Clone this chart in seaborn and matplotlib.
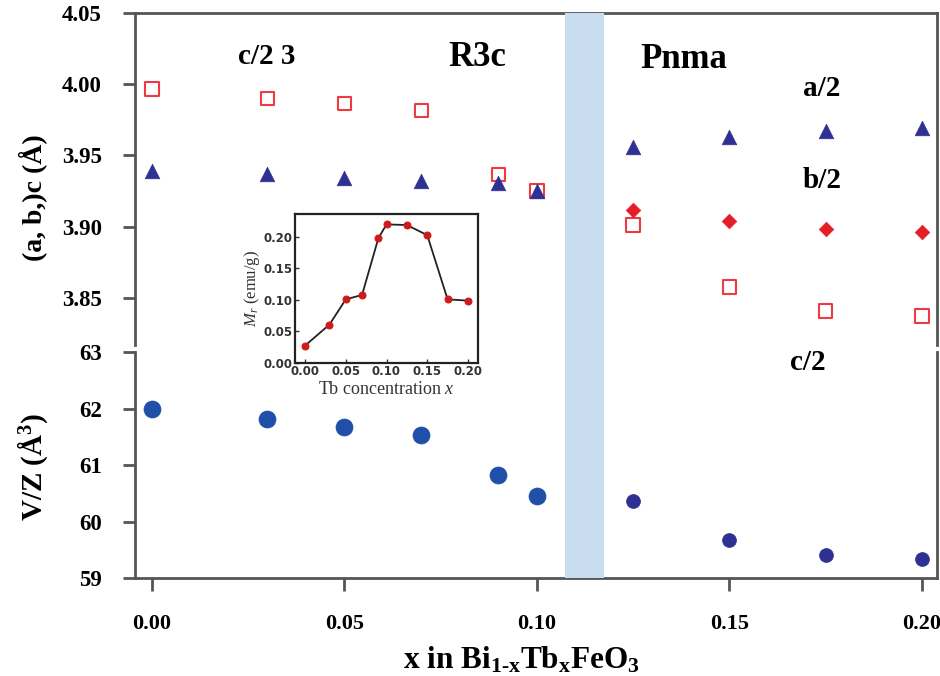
import matplotlib
matplotlib.use("Agg")
import matplotlib.pyplot as plt
import matplotlib.transforms as mtransforms
from matplotlib.patches import Rectangle
import seaborn as sns
import pandas as pd

# ---------------- data ----------------
x_r3c = [0.00, 0.03, 0.05, 0.07, 0.09, 0.10]
x_pnma = [0.125, 0.15, 0.175, 0.20]

a_r3c = [3.939, 3.937, 3.9345, 3.932, 3.931, 3.925]
c_r3c = [3.9965, 3.990, 3.9866, 3.9817, 3.9366, 3.925]
a_pnma = [3.956, 3.963, 3.967, 3.969]
b_pnma = [3.912, 3.904, 3.8986, 3.896]
c_pnma = [3.9014, 3.8577, 3.8408, 3.8373]

vz_r3c = [62.00, 61.82, 61.68, 61.53, 60.83, 60.45]
vz_pnma = [60.37, 59.68, 59.40, 59.33]

inset_x = [0.00, 0.03, 0.05, 0.07, 0.09, 0.10, 0.125, 0.15, 0.175, 0.20]
inset_mr = [0.0275, 0.061, 0.101, 0.108, 0.198, 0.220, 0.219, 0.203, 0.101, 0.099]

x_ticks = [0.00, 0.05, 0.10, 0.15, 0.20]
top_yticks = [3.85, 3.90, 3.95, 4.00, 4.05]
bot_yticks = [59, 60, 61, 62, 63]
inset_xticks = [0.00, 0.05, 0.10, 0.15, 0.20]
inset_yticks = [0.00, 0.05, 0.10, 0.15, 0.20]
band = (0.1073, 0.1174)

# ---------------- style ----------------
sns.set_theme(style="white")
plt.rcParams['font.family'] = ['Liberation Serif', 'DejaVu Serif']
plt.rcParams['mathtext.fontset'] = 'custom'
plt.rcParams['mathtext.rm'] = 'Liberation Serif'
plt.rcParams['mathtext.bf'] = 'Liberation Serif:bold'
plt.rcParams['mathtext.it'] = 'Liberation Serif:italic'
plt.rcParams['mathtext.default'] = 'regular'
plt.rcParams['text.color'] = 'black'

NAVY = "#2e3192"
BLUE = "#1f4fa8"
RED_SQ = "#ee3a43"
RED_D = "#e41e26"
SPINE = "#555555"
BAND = "#c8ddf0"

fig = plt.figure(figsize=(9.4, 6.76), dpi=100)
ax_top = fig.add_axes([0.1436, 0.4896, 0.8532, 0.4912])
ax_bot = fig.add_axes([0.1436, 0.145, 0.8532, 0.334])

xlim = (-0.0044, 0.2039)

# blue band spanning both panels
trans = mtransforms.blended_transform_factory(ax_bot.transData, fig.transFigure)
fig.patches.append(Rectangle((band[0], 0.145), band[1] - band[0], 0.981 - 0.145,
                             transform=trans, facecolor=BAND, edgecolor="none",
                             zorder=0, figure=fig))
ax_top.patch.set_alpha(0)
ax_bot.patch.set_alpha(0)

# ---------------- top panel ----------------
df_a = pd.DataFrame({"x": x_r3c + x_pnma, "v": a_r3c + a_pnma})
df_c = pd.DataFrame({"x": x_r3c + x_pnma, "v": c_r3c + c_pnma})
df_b = pd.DataFrame({"x": x_pnma, "v": b_pnma})

sns.scatterplot(data=df_c, x="x", y="v", ax=ax_top, marker="s", s=95,
                facecolor="none", edgecolor=RED_SQ, linewidth=1.5, zorder=3)
sns.scatterplot(data=df_a, x="x", y="v", ax=ax_top, marker="^", s=110,
                color=NAVY, edgecolor=NAVY, linewidth=0.5, zorder=4)
sns.scatterplot(data=df_b, x="x", y="v", ax=ax_top, marker="D", s=55,
                color=RED_D, edgecolor=RED_D, linewidth=0.5, zorder=4)

ax_top.set_xlim(*xlim)
ax_top.set_ylim(3.817, 4.05)
ax_top.set_yticks(top_yticks)
ax_top.set_yticklabels([f"{v:.2f}" for v in top_yticks])
ax_top.set_xticks([])
ax_top.set_xlabel("")
ax_top.set_ylabel("")
for s in ["left", "top", "right"]:
    ax_top.spines[s].set_color(SPINE)
    ax_top.spines[s].set_linewidth(2)
ax_top.spines["bottom"].set_visible(False)

# ---------------- bottom panel ----------------
df_vr = pd.DataFrame({"x": x_r3c, "v": vz_r3c})
df_vp = pd.DataFrame({"x": x_pnma, "v": vz_pnma})
sns.scatterplot(data=df_vr, x="x", y="v", ax=ax_bot, marker="o", s=150,
                color=BLUE, edgecolor=BLUE, linewidth=0.5, zorder=3)
sns.scatterplot(data=df_vp, x="x", y="v", ax=ax_bot, marker="o", s=100,
                color=NAVY, edgecolor=NAVY, linewidth=0.5, zorder=3)
ax_bot.set_xlim(*xlim)
ax_bot.set_ylim(59, 63)
ax_bot.set_yticks(bot_yticks)
ax_bot.set_yticklabels([str(v) for v in bot_yticks])
ax_bot.set_xticks(x_ticks)
ax_bot.set_xticklabels([f"{v:.2f}" for v in x_ticks])
ax_bot.set_xlabel("")
ax_bot.set_ylabel("")
for s in ["left", "bottom", "right"]:
    ax_bot.spines[s].set_color(SPINE)
    ax_bot.spines[s].set_linewidth(2)
ax_bot.spines["top"].set_visible(False)

for ax in (ax_top, ax_bot):
    ax.tick_params(axis="y", direction="out", length=9, width=2, color=SPINE,
                   labelcolor="black", pad=15, labelsize=16.5, left=True)
    for lab in ax.get_yticklabels():
        lab.set_fontweight("bold")
ax_bot.tick_params(axis="x", direction="out", length=9, width=2, color=SPINE,
                   labelcolor="black", pad=17, labelsize=16, bottom=True)
for lab in ax_bot.get_xticklabels():
    lab.set_fontweight("bold")

# axis labels
fig.text(33 / 940, 1 - 198 / 676, "(a, b,)c (Å)", rotation=90, ha="center",
         va="center", fontsize=20, fontweight="bold")
fig.text(33 / 940, 1 - 467 / 676, r"V/Z (Å$^{\mathbf{3}}$)", rotation=90, ha="center",
         va="center", fontsize=21, fontweight="bold")
fig.text(521 / 940, 1 - 660 / 676,
         r"x in Bi$_{\mathbf{1\text{-}x}}$Tb$_{\mathbf{x}}$FeO$_{\mathbf{3}}$",
         ha="center", va="center", fontsize=22.5, fontweight="bold")

# annotations
ann = dict(fontweight="bold", ha="center", va="center", color="black")
fig.text(267 / 940, 1 - 56 / 676, "c/2 3", fontsize=21, **ann)
fig.text(477 / 940, 1 - 58 / 676, "R3c", fontsize=25, **ann)
fig.text(684 / 940, 1 - 59 / 676, "Pnma", fontsize=25, **ann)
fig.text(822 / 940, 1 - 88 / 676, "a/2", fontsize=21, **ann)
fig.text(822 / 940, 1 - 180 / 676, "b/2", fontsize=21, **ann)
fig.text(808 / 940, 1 - 362 / 676, "c/2", fontsize=21, **ann)

# ---------------- inset ----------------
ax_in = fig.add_axes([295 / 940, 1 - 363 / 676, 183 / 940, 149 / 676], zorder=5)
ax_in.set_facecolor("white")
df_in = pd.DataFrame({"x": inset_x, "mr": inset_mr})
sns.lineplot(data=df_in, x="x", y="mr", ax=ax_in, color="#222222", linewidth=1.3,
             marker="o", markersize=5, markerfacecolor="#d01a1a",
             markeredgecolor="#d01a1a")
ax_in.set_xlim(-0.0123, 0.2123)
ax_in.set_ylim(0, 0.2365)
ax_in.set_xticks(inset_xticks)
ax_in.set_xticklabels([f"{v:.2f}" for v in inset_xticks])
ax_in.set_yticks(inset_yticks)
ax_in.set_yticklabels([f"{v:.2f}" for v in inset_yticks])
ax_in.tick_params(axis="both", labelsize=8.5, length=3, width=1, pad=1.5,
                  direction="in", colors="#333333", left=True, bottom=True)
for lab in ax_in.get_xticklabels() + ax_in.get_yticklabels():
    lab.set_family(["DejaVu Sans"])
    lab.set_fontweight("bold")
for s in ax_in.spines.values():
    s.set_color("#222222")
    s.set_linewidth(1.6)
ax_in.set_xlabel("Tb concentration $\\mathit{x}$", fontsize=13, labelpad=2,
                 color="#333333")
ax_in.set_ylabel("$\\mathit{M_r}$ (emu/g)", fontsize=12, labelpad=1, color="#333333")

fig.savefig("out.png", dpi=100)
